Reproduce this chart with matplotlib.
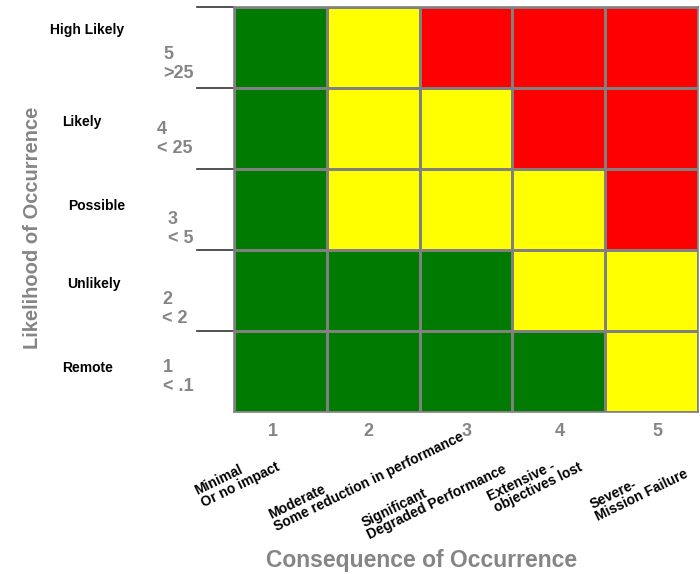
"""
Risk matrix: likelihood vs consequence of occurrence, saved to out.png.
"""
import matplotlib
matplotlib.use("Agg")
import matplotlib.pyplot as plt
from matplotlib.colors import ListedColormap
import numpy as np

plt.rcParams["font.family"] = ["Liberation Sans", "DejaVu Sans"]

# rows run bottom (Remote) to top (High Likely)
likelihood = ["Remote", "Unlikely", "Possible", "Likely", "High Likely"]
likelihood_levels = ["1\n< .1", "2\n< 2", "3\n< 5", "4\n< 25", "5\n>25"]
consequence_levels = ["1", "2", "3", "4", "5"]
consequence = [
    "Minimal\nOr no impact",
    "Moderate\nSome reduction in performance",
    "Significant\nDegraded Performance",
    "Extensive -\nobjectives lost",
    "Severe-\nMission Failure",
]
# 0 = low (green), 1 = medium (yellow), 2 = high (red)
risk = [
    [0, 0, 0, 0, 1],
    [0, 0, 0, 1, 1],
    [0, 1, 1, 1, 2],
    [0, 1, 1, 2, 2],
    [0, 1, 2, 2, 2],
]

GRAY = "#858585"
cmap = ListedColormap(["#007a00", "#ffff00", "#ff0000"])

W, H = 700, 574
fig = plt.figure(figsize=(W / 100, H / 100), dpi=100)
ax = fig.add_axes([234 / W, 1 - 412 / H, (698 - 234) / W, (412 - 7) / H])

edges = np.arange(0.5, 6.0, 1.0)
ax.pcolormesh(edges, edges, np.array(risk), cmap=cmap, vmin=0, vmax=2,
              edgecolor="#808080", linewidth=1.0)
ax.set_xlim(0.5, 5.5)
ax.set_ylim(0.5, 5.5)
ax.set_xticks([])
ax.set_yticks([])
for s in ax.spines.values():
    s.set_color("#808080")
    s.set_linewidth(1.2)

# short separators left of the grid
for i, yb in enumerate(edges[1:]):
    x1 = 0.6 if i == 2 else 0.5
    ax.plot([0.1, x1], [yb, yb], color="#333333", lw=1.2, clip_on=False, zorder=0)


def px(x, y):
    return x / W, 1 - y / H


# likelihood names and levels (pixel layout)
name_pos = [(88, 368), (94, 284), (97, 206), (82, 122), (87, 30)]
level_pos = [(163, 377), (162, 309), (168, 229), (157, 139), (163, 64)]
for name, (x, y) in zip(likelihood, name_pos):
    fig.text(*px(x, y), name, ha="center", va="center", fontsize=10,
             fontweight="bold", color="black")
for lvl, (x, y) in zip(likelihood_levels, level_pos):
    fig.text(*px(x, y), lvl, ha="left", va="center", fontsize=13,
             fontweight="bold", color=GRAY, linespacing=1.2)

fig.text(*px(33, 228), "Likelihood of Occurrence", rotation=90,
         ha="center", va="center", fontsize=14.5, fontweight="bold", color=GRAY)

# consequence numbers and names
num_x = [273, 368, 467, 560, 657]
for n, x in zip(consequence_levels, num_x):
    fig.text(*px(x, 432), n, ha="center", va="center", fontsize=13,
             fontweight="bold", color=GRAY)

cons_pos = [(237, 479), (366, 476), (434, 496), (535, 482), (639, 489)]
for c, (x, y) in zip(consequence, cons_pos):
    fig.text(*px(x, y), c, ha="center", va="center", rotation=26,
             rotation_mode="anchor", fontsize=10, fontweight="bold",
             color="black", multialignment="left", linespacing=0.95)

fig.text(*px(422, 560), "Consequence of Occurrence", ha="center", va="center",
         fontsize=16.5, fontweight="bold", color=GRAY)

fig.savefig("out.png", dpi=100)
